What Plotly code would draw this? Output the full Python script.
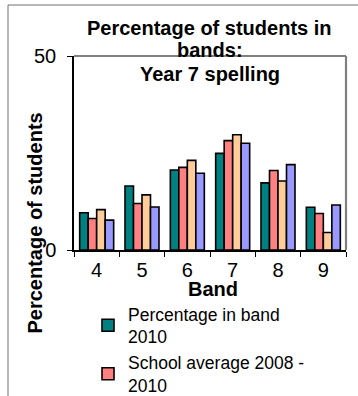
import plotly.graph_objects as go

# Spelling bands and the share of students (%) in each band
bands = ["4", "5", "6", "7", "8", "9"]
pct_2010 = [9.6, 16.5, 20.6, 24.9, 17.3, 11.0]
school_avg = [8.1, 12.0, 21.3, 28.2, 20.5, 9.4]
region_2010 = [10.4, 14.2, 23.1, 29.7, 17.8, 4.5]
state_2010 = [7.7, 11.1, 19.8, 27.5, 22.0, 11.6]

series = [
    ("Percentage in band<br>2010", pct_2010, "#008080", True),
    ("School average 2008 -<br>2010", school_avg, "#FF8080", True),
    ("Region 2010", region_2010, "#FFCC99", False),
    ("State 2010", state_2010, "#9999FF", False),
]

title_lines = ["Percentage of students in", "bands:", "Year 7 spelling"]

FONT = "Liberation Sans, Arial, sans-serif"

W, H = 358, 396
ML, MR, MT, MB = 74, 12, 56, 146
PW, PH = W - ML - MR, H - MT - MB


def px_x(x):
    return (x - ML) / PW


def px_y(y):
    return 1 - (y - MT) / PH


fig = go.Figure()
for name, vals, color, show in series:
    fig.add_trace(go.Bar(
        x=bands, y=vals, name=name, showlegend=show,
        marker=dict(color=color, line=dict(color="black", width=1.6)),
    ))

# chart title, one line per annotation (bottom edges of the text boxes)
title_bottoms = [41, 63, 87]
annotations = [
    dict(text=f"<b>{line}</b>", x=px_x(209.5), y=px_y(b), xref="paper",
         yref="paper", xanchor="center", yanchor="bottom", showarrow=False,
         font=dict(size=20))
    for line, b in zip(title_lines, title_bottoms)
]
annotations += [
    dict(text="<b>Band</b>", x=px_x(213), y=px_y(302), xref="paper",
         yref="paper", xanchor="center", yanchor="bottom",
         showarrow=False, font=dict(size=20)),
    dict(text="<b>Percentage of students</b>", x=px_x(21), y=px_y(223.5),
         xref="paper", yref="paper", xanchor="left", yanchor="middle",
         textangle=-90, showarrow=False, font=dict(size=20)),
]

fig.update_layout(
    width=W, height=H,
    margin=dict(l=ML, r=MR, t=MT, b=MB, autoexpand=False),
    paper_bgcolor="white", plot_bgcolor="white",
    font=dict(family=FONT, color="black", size=20),
    barmode="group", bargap=0.25, bargroupgap=0,
    xaxis=dict(
        type="category", tickson="boundaries", ticks="outside", ticklen=5,
        tickcolor="black", showline=True, linecolor="black", linewidth=1.5,
        showgrid=False, tickfont=dict(size=20), ticklabelstandoff=1,
    ),
    yaxis=dict(
        range=[0, 50], tickvals=[0, 50], ticks="outside", ticklen=5,
        tickcolor="black", showline=True, linecolor="black", linewidth=1.5,
        showgrid=False, zeroline=False, tickfont=dict(size=20),
        ticklabelstandoff=7,
    ),
    legend=dict(
        x=px_x(88), y=px_y(296), xanchor="left", yanchor="top",
        font=dict(size=17.5), bgcolor="rgba(0,0,0,0)", tracegroupgap=0,
        itemwidth=30,
    ),
    annotations=annotations,
    shapes=[
        # outer chart frame (top and left edges)
        dict(type="line", xref="paper", yref="paper", x0=px_x(8), x1=px_x(400),
             y0=px_y(5), y1=px_y(5), line=dict(color="#707070", width=1)),
        dict(type="line", xref="paper", yref="paper", x0=px_x(8), x1=px_x(8),
             y0=px_y(5), y1=px_y(420), line=dict(color="#707070", width=1)),
        # plot area border (top and right edges)
        dict(type="line", xref="paper", yref="paper", x0=0, x1=1, y0=1, y1=1,
             line=dict(color="#808080", width=2.2)),
        dict(type="line", xref="paper", yref="paper", x0=1, x1=1, y0=0, y1=1,
             line=dict(color="#808080", width=2.2)),
    ],
)

fig.write_html("out.html")
